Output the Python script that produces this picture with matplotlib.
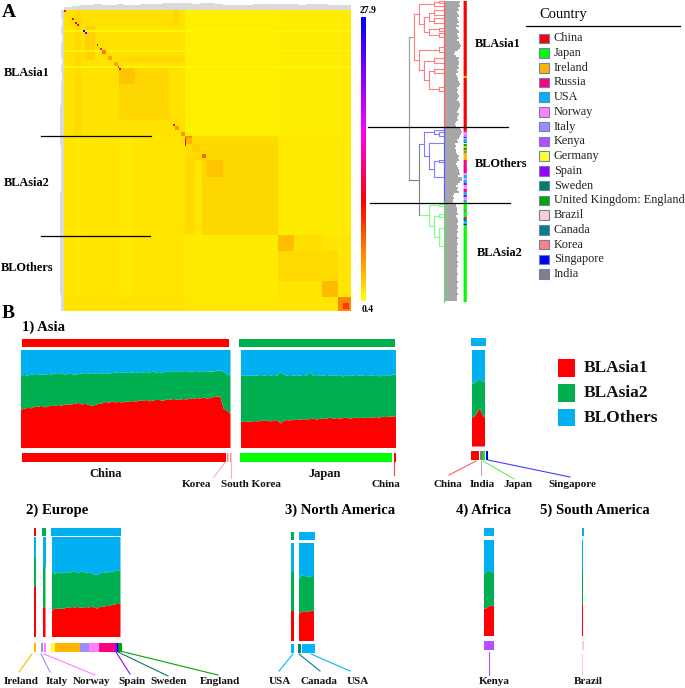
import numpy as np
import matplotlib
matplotlib.use('Agg')
import matplotlib.pyplot as plt
from matplotlib.colors import LinearSegmentedColormap, Normalize

plt.rcParams['font.family'] = ['Liberation Serif', 'DejaVu Serif']

W, H = 685, 688

# ---- panel A data ----
n_samples = 150
heat_base = 1.2
# row0, row1, col0, col1, value
heat_rects = [
    (0, 63, 63, 150, 0.95), (0, 63, 112, 150, 1.05),
    (63, 150, 0, 63, 1.4), (113, 150, 63, 112, 1.25), (63, 112, 112, 150, 1.25),
    (0, 63, 0, 63, 1.5), (0, 63, 6, 9, 1.8), (8, 25, 11, 16, 2.2),
    (63, 150, 6, 9, 1.2), (63, 150, 20, 22, 1.5), (63, 150, 30, 36, 1.25),
    (23, 26, 30, 63, 1.9), (29, 55, 29, 55, 1.95), (29, 37, 29, 37, 2.7),
    (0, 6, 57, 60, 2.0), (6, 8, 55, 60, 1.8),
    (10, 11, 0, 150, 0.8), (20, 21, 0, 150, 0.85), (28, 29, 0, 150, 0.8),
    (63, 112, 63, 112, 1.95), (68, 112, 63, 68, 1.85), (75, 112, 68, 72, 1.45),
    (63, 67, 67, 112, 1.7), (68, 73, 63, 75, 1.65), (75, 83, 75, 83, 2.7),
    (63, 67, 63, 67, 3.2), (67, 71, 67, 71, 2.2), (63, 64, 63, 67, 5.0), (64, 68, 63, 64, 10.0),
    (112, 150, 112, 150, 1.45), (120, 135, 112, 134, 1.85), (112, 120, 120, 135, 1.65),
    (112, 120, 112, 120, 2.9), (120, 135, 134, 143, 1.75), (135, 143, 135, 143, 3.0),
    (143, 150, 143, 150, 5.0), (146, 149, 146, 149, 8.0),
    (143, 150, 0, 63, 1.55), (143, 150, 63, 120, 1.35),
]
heat_diag_blocks = [(20, 22, 5.5), (23, 25, 4.0), (26, 28, 4.0), (58, 60, 4.5), (61, 63, 4.5), (72, 74, 6.5)]
heat_spots = [(0, 12.0), (4, 11.0), (6, 10.0), (7, 11.0), (10, 27.9), (11, 24.0), (17, 11.0),
              (19, 15.0), (28, 17.0), (29, 11.0), (57, 11.0)]

top_dendro = [3, 4, 5, 5, 6, 5, 5, 6, 5, 5, 6, 6, 6, 7, 7, 7, 7, 6, 7, 7, 6, 5, 5, 5, 5, 6, 6, 6, 6, 6, 6, 5, 6, 6, 6, 5, 5, 5]
left_dendro = [3, 2, 3, 2, 3, 3, 2, 3, 2, 3, 3, 3, 4, 4, 4, 4, 4, 3, 3, 3, 3, 3, 3, 4, 4, 4, 4, 4, 4, 4, 4, 4, 4, 4, 4, 4, 3, 3]

# node = (x, child, child), leaf = y
tree_red = (414,
            (419, (434, (439, 1, 2.7), 6),
             (424, (429, (434, 10, 15), (434, 18, 23)), (429, (439, 27.5, 31), (439, 33, 37)))),
            (419, (439, 47, 52), (424, (434, 58, 63), (429, (434, 69, 73), (439, 87, 91)))))
tree_blue = (424, (434, 130, (439, 131.7, 136)), (429, 143, (434, (439, 159.5, 162), 177)))
tree_green = (429, (439, 204, 205.5), (434, (439, 214, 217.3), (439, 227.5, 245.7)))

leaf_red = [16, 15, 16, 14, 15, 13, 14, 15, 13, 14, 15, 13, 15, 12, 14, 15, 13, 14, 15, 13, 15, 16, 17, 16, 14, 11, 10, 12,
            15, 14, 15, 15, 14, 15, 13, 14, 12, 13, 14, 14, 15, 16, 15, 13, 14, 13, 14, 15, 14, 13, 15, 16, 16, 15, 14, 13,
            15, 14, 13, 14, 12, 11, 12]
leaf_blue = [16, 17, 18, 17, 16, 15, 13, 14, 11, 12, 11, 12, 12, 13, 15, 14, 15, 13, 12, 13, 14, 15, 15, 16, 14, 18, 18,
             16, 14, 12, 14, 13, 15, 10, 9, 10, 9]
leaf_green = [9, 12, 12, 13, 13, 13, 14, 12, 13, 14, 14, 13, 14, 14, 13, 14, 13, 13, 14, 13, 13, 14, 13, 13, 13, 14, 13,
              14, 13, 13, 14, 13, 14, 13, 13, 13, 14, 13, 13, 13, 14, 13, 13, 14, 13, 13, 14, 13, 13, 13]

country_names = ['China', 'Japan', 'Ireland', 'Russia', 'USA', 'Norway', 'Italy', 'Kenya', 'Germany', 'Spain',
                 'Sweden', 'United Kingdom: England', 'Brazil', 'Canada', 'Korea', 'Singapore', 'India']
country_colors = ['#ff0000', '#00ff00', '#ffb400', '#ff0080', '#00b4ff', '#ff80ff', '#9b8cff', '#b84dff', '#ffff33',
                  '#9900ff', '#008060', '#00a800', '#ffcccc', '#008080', '#ff8080', '#0000ff', '#808080']
colors = dict(zip(country_names, country_colors))
colors['gap'] = '#ffffff'
colors['England'] = colors['United Kingdom: England']
colors['asia1'] = '#ff0000'
colors['asia2'] = '#00b050'
colors['others'] = '#00b0f0'

tree_strip_names = ['China', 'Ireland', 'China', 'Russia', 'Norway', 'Italy', 'Spain', 'Norway', 'USA', 'Canada',
                    'gap', 'England', 'Ireland', 'England', 'Ireland', 'India', 'Ireland', 'Russia', 'Norway', 'USA',
                    'Norway', 'USA', 'Spain', 'Norway', 'Russia', 'USA', 'Spain', 'Norway', 'USA', 'Japan', 'India',
                    'Japan', 'Russia', 'Sweden', 'USA', 'Singapore', 'Japan']
tree_strip_sizes = [75, 2, 52, 2, 3, 2, 1, 1, 3, 1, 1, 2, 2, 2, 1, 2, 7, 13, 2, 3, 2, 3, 2, 4, 3, 3, 2, 3, 2, 8, 2, 5, 2, 2, 3, 1, 77]

# ---- panel B data: share of BLAsia1 and of BLAsia1 + BLAsia2 per sample ----
china_red = [.39, .40, .41, .405, .42, .42, .43, .415, .425, .43, .43, .44, .43, .445, .44, .445, .45, .46, .445, .45,
             .44, .43, .44, .45, .455, .47, .46, .475, .465, .47, .465, .475, .47, .48, .47, .485, .48, .49, .475, .485,
             .49, .49, .48, .495, .49, .50, .495, .49, .50, .495, .505, .50, .51, .505, .515, .505, .51, .52, .525, .525,
             .40, .38, .35]
china_green = [.74, .745, .74, .75, .745, .745, .75, .745, .755, .75, .76, .765, .76, .75, .76, .755, .745, .755, .76, .765,
               .76, .755, .76, .765, .76, .765, .76, .765, .77, .765, .77, .765, .775, .77, .765, .775, .77, .775, .77, .78,
               .77, .775, .77, .78, .775, .78, .785, .775, .78, .785, .78, .78, .785, .78, .775, .785, .78, .78, .79, .79,
               .78, .75, .74]
japan_red = [.27, .265, .27, .27, .275, .27, .28, .275, .28, .27, .28, .285, .25, .28, .285, .28, .29, .285, .29, .295,
             .29, .295, .30, .29, .30, .295, .30, .31, .30, .305, .30, .305, .31, .30, .305, .31, .305, .31, .305, .31,
             .31, .315, .31, .32, .315, .32, .32, .325]
japan_green = [.74, .735, .74, .735, .74, .74, .745, .74, .745, .74, .745, .74, .775, .745, .74, .745, .74, .735, .74, .745,
               .74, .77, .74, .745, .735, .74, .745, .74, .735, .74, .745, .73, .74, .735, .74, .745, .735, .74, .745, .735,
               .74, .745, .73, .745, .74, .735, .75, .745]
india_red = [.31, .30, .31, .33, .35, .37, .40, .36, .33, .31, .30]
india_green = [.655, .65, .66, .67, .68, .69, .705, .69, .67, .665, .67]
ireland_red = [.497, .497]
ireland_green = [.79, .79]
italy_red = [.30, .295]
italy_green = [.70, .70]
europe_red = [.26, .29, .28, .285, .28, .295, .29, .30, .295, .30, .295, .29, .30, .295, .305, .29, .285, .31, .30, .31,
              .31, .32, .325, .33, .335]
europe_green = [.66, .63, .65, .635, .645, .64, .645, .65, .66, .64, .65, .655, .64, .65, .635, .625, .62, .64, .65, .64,
                .655, .645, .66, .665, .66]
usa_red = [.306, .306]
usa_green = [.70, .70]
na_red = [.28, .29, .30, .295, .30, .305, .30, .305, .31, .31]
na_green = [.63, .66, .67, .66, .665, .655, .66, .65, .66, .67]
kenya_red = [.285, .285, .295, .31, .315, .315, .315]
kenya_green = [.65, .66, .675, .68, .67, .665, .66]
brazil_red = [.333, .333]
brazil_green = [.69, .69]

legend_labels = ['BLAsia1', 'BLAsia2', 'BLOthers']

fig = plt.figure(figsize=(6.85, 6.88), dpi=100)


def px_ax(x0, y0, x1, y1, **kw):
    ax = fig.add_axes([x0 / W, 1 - y1 / H, (x1 - x0) / W, (y1 - y0) / H], **kw)
    ax.axis('off')
    return ax


def structure(box, red, green):
    ax = px_ax(*box)
    red = np.array(red)
    green = np.array(green)
    x = np.arange(len(red))
    ax.stackplot(x, red, green - red, 1 - green, colors=[colors['asia1'], colors['asia2'], colors['others']], lw=0)
    ax.set_xlim(0, len(red) - 1)
    ax.set_ylim(0, 1)


def strip(box, names, sizes):
    ax = px_ax(*box)
    left = 0
    for name, size in zip(names, sizes):
        ax.barh(0, size, left=left, height=1, color=colors[name], lw=0)
        left += size
    ax.set_xlim(0, left)
    ax.set_ylim(-0.5, 0.5)


def draw_tree(ax, node, parent_x, color):
    if not isinstance(node, tuple):
        ax.plot([parent_x, 444], [node, node], color=color, lw=0.8)
        return node
    x = node[0]
    ys = [draw_tree(ax, c, x, color) for c in node[1:]]
    ax.plot([x, x], [min(ys), max(ys)], color=color, lw=0.8)
    y = np.mean(ys)
    ax.plot([parent_x, x], [y, y], color=color, lw=0.8)
    return y


# heatmap
heat = np.full((n_samples, n_samples), heat_base)
for r0, r1, c0, c1, v in heat_rects:
    heat[r0:r1, c0:c1] = v
for start, end, v in heat_diag_blocks:
    heat[start:end, start:end] = v
for i, v in heat_spots:
    heat[i, i] = v

heat_cmap = LinearSegmentedColormap.from_list('heat', [(0, '#ffff00'), (0.35, '#ff0000'), (0.6, '#ff00ff'), (1, '#0000ff')])
heat_norm = Normalize(0.4, 27.9)
ax = px_ax(64, 10, 351, 311)
im = ax.imshow(heat, cmap=heat_cmap, norm=heat_norm, aspect='auto', interpolation='nearest')

ax = px_ax(64, 3, 351, 10)
ax.bar(np.arange(len(top_dendro)), top_dendro, width=1.0, color='#dadada', lw=0)
ax.set_xlim(-0.5, len(top_dendro) - 0.5)
ax.set_ylim(0, 7.5)

ax = px_ax(59, 10, 64, 311)
ax.barh(np.arange(len(left_dendro)), left_dendro, height=1.0, color='#dadada', lw=0)
ax.set_ylim(len(left_dendro) - 0.5, -0.5)
ax.set_xlim(5, 0)

cax = fig.add_axes([361 / W, 1 - 301 / H, 5 / W, 284 / H])
cbar = fig.colorbar(im, cax=cax, ticks=[])
cbar.outline.set_visible(False)

# tree
ax = px_ax(400, 0, 470, 305)
ax.set_xlim(400, 470)
ax.set_ylim(305, 0)
ry = draw_tree(ax, tree_red, 409, '#ff8080')
by = draw_tree(ax, tree_blue, 419, '#8080ff')
gy = draw_tree(ax, tree_green, 419, '#80ff80')
ax.plot([419, 419], [by, gy], color='#808080', lw=0.8)
ax.plot([409, 409], [ry, (by + gy) / 2], color='#a0a0a0', lw=0.9)
ax.plot([409, 419], [(by + gy) / 2, (by + gy) / 2], color='#808080', lw=0.8)

leaves = leaf_red + leaf_blue + leaf_green
leaf_bars = ax.barh(2 + 2 * np.arange(len(leaves)), leaves, left=444, height=1.3, color='#787878', lw=0)
for b in leaf_bars:
    b.set_snap(False)
ax.plot([444, 444], [2, 127], color='#ff6060', lw=0.9)
ax.plot([444, 444], [127, 202], color='#6060ff', lw=0.9)
ax.plot([444, 444], [202, 302], color='#60e060', lw=0.9)

top = 1
for name, size in zip(tree_strip_names, tree_strip_sizes):
    tree_bar = ax.bar(465.2, size, bottom=top, width=3.2, color=colors[name], lw=0)
    tree_bar[0].set_snap(False)
    top += size

# country legend
ax = px_ax(0, 0, W, H)
ax.set_xlim(0, W)
ax.set_ylim(H, 0)
ax.patch.set_alpha(0)
ax.text(539, 14.5, 'Country', fontsize=10.5, ha='left', va='center')
ax.plot([526, 680], [25.5, 25.5], color='k', lw=0.9)
for i, name in enumerate(country_names):
    y = 38.3 + i * 14.73
    ax.bar(543.8, 9.5, bottom=y - 4.75, width=10, color=colors[name], edgecolor='#7080b0', lw=0.8)
    ax.text(554, y, name, fontsize=8.8, ha='left', va='center', color='#222222')

# panel labels and cut lines
ax.text(2, 12.5, 'A', fontsize=14, fontweight='bold', va='center')
ax.text(2, 313.5, 'B', fontsize=14, fontweight='bold', va='center')
ax.plot([41, 151], [136.3, 136.3], color='k', lw=0.9)
ax.plot([41, 150], [235.5, 235.5], color='k', lw=0.9)
ax.plot([368, 508], [127, 127], color='k', lw=0.9)
ax.plot([370, 510], [202.5, 202.5], color='k', lw=0.9)
ax.text(368, 10.5, '27.9', fontsize=7, fontweight='bold', ha='center', va='center')
ax.text(368, 309, '0.4', fontsize=7, fontweight='bold', ha='center', va='center')
for x, y, s in [(4, 73, 'BLAsia1'), (3.5, 183, 'BLAsia2'), (1, 268, 'BLOthers')]:
    ax.text(x, y, s, fontsize=8.8, fontweight='bold', va='center')
for x, y, s in [(474.5, 44, 'BLAsia1'), (475, 164, 'BLOthers'), (477, 253, 'BLAsia2')]:
    ax.text(x, y, s, fontsize=8.8, fontweight='bold', va='center')

# panel B headings
for x, y, s in [(22, 327, '1) Asia'), (26, 510, '2) Europe'), (285, 510, '3) North America'),
                (456, 510, '4) Africa'), (540, 510, '5) South America')]:
    ax.text(x, y, s, fontsize=10.6, fontweight='bold', va='center')

# legend for groups
for i, s in enumerate(legend_labels):
    y = 368 + i * 24.8
    ax.bar(566.7, 17.5, bottom=y - 8.75, width=17.5, color=colors[['asia1', 'asia2', 'others'][i]], lw=0)
    ax.text(584, y, s, fontsize=12.5, fontweight='bold', va='center', color='#111111')

# sample labels
label_list = [(105.5, 474, 'China'), (325, 474, 'Japan'), (197, 484.5, 'Korea'), (251, 484.5, 'South Korea'),
              (386, 484.5, 'China'), (448, 484.5, 'China'), (482, 484.5, 'India'), (518, 484.5, 'Japan'),
              (572, 484.5, 'Singapore'), (21, 681, 'Ireland'), (57, 681, 'Italy'), (92, 681, 'Norway'),
              (132, 681, 'Spain'), (169, 681, 'Sweden'), (220, 681, 'England'), (280, 681, 'USA'),
              (319, 681, 'Canada'), (358, 681, 'USA'), (494, 681.5, 'Kenya'), (588, 681.5, 'Brazil')]
for x, y, s in label_list:
    ax.text(x, y, s, fontsize=8 if s not in ('China', 'Japan') or y > 480 else 9, fontweight='bold',
            ha='center', va='center', color='#111111')

# leader lines
leaders = [((226, 214), (461, 477), '#ffb0b0'), ((231, 231), (462, 478), '#ffb0b0'), ((394.5, 394.5), (462, 475), '#ff4040'),
           ((476, 449), (461, 475), '#ff6060'), ((481, 481), (461, 475), '#b0b0b0'), ((483, 514), (461, 479), '#60f060'),
           ((488, 570), (460, 477), '#4040ff'), ((32, 19), (654, 672), colors['Ireland']), ((41, 50), (654, 672), colors['Italy']),
           ((44, 95), (654, 675), colors['Norway']), ((116, 130), (652, 674), colors['Spain']),
           ((118, 168), (652, 676), colors['Sweden']), ((120, 218), (651, 675), colors['England']),
           ((293, 279), (654, 671), colors['USA']), ((299, 320), (654, 671), colors['Canada']),
           ((311, 350), (654, 671), colors['USA']), ((489.5, 489.5), (652, 675), colors['Kenya']),
           ((582.5, 582.5), (654, 675), colors['Brazil'])]
for xs, ys, c in leaders:
    ax.plot(xs, ys, color=c, lw=0.8)
ax.set_xlim(0, W)
ax.set_ylim(H, 0)

# structure plots
structure((21, 350, 230.5, 448), china_red, china_green)
structure((241, 350, 396, 448), japan_red, japan_green)
structure((472, 350, 485, 446.5), india_red, india_green)
structure((33.7, 537, 35.5, 637), ireland_red, ireland_green)
structure((42.5, 537, 45.5, 637), italy_red, italy_green)
structure((52, 537, 120.5, 637), europe_red, europe_green)
structure((291, 543, 294, 641), usa_red, usa_green)
structure((299, 543, 314, 641), na_red, na_green)
structure((484, 540, 494, 636), kenya_red, kenya_green)
structure((581.7, 540, 583.2, 636), brazil_red, brazil_green)

# group bars above the plots
strip((21.5, 339, 229.5, 347), ['asia1'], [1])
strip((239, 339, 395, 347), ['asia2'], [1])
strip((471.5, 338, 485.5, 346), ['others'], [1])
strip((33.5, 527.5, 35.5, 535.5), ['asia1'], [1])
strip((42, 527.5, 46, 535.5), ['asia2'], [1])
strip((51, 527.5, 121, 535.5), ['others'], [1])
strip((290.5, 531.5, 294, 540), ['asia2'], [1])
strip((298.5, 531.5, 314.5, 540), ['others'], [1])
strip((484, 528, 494.5, 536), ['others'], [1])
strip((581.5, 528, 583.5, 536), ['others'], [1])

# country bars below the plots
strip((21.5, 453, 232, 461.5), ['China', 'gap', 'Korea', 'gap', 'Brazil', 'gap', 'Korea', 'gap', 'Brazil'],
      [204, 1, 1, 0.5, 1, 0.5, 1, 0.5, 1])
strip((240, 453, 396, 461.5), ['Japan', 'gap', 'China'], [152, 2, 2])
strip((471.5, 451, 488, 460), ['China', 'gap', 'India', 'gap', 'Japan', 'gap', 'Singapore'], [7.5, 1, 2.5, 0.5, 1.5, 1, 2])
strip((33.7, 643, 35.5, 652), ['Ireland'], [1])
strip((41, 643, 46, 652), ['Italy', 'gap', 'Norway'], [2.2, 0.6, 2.2])
strip((51, 643, 122, 652), ['Germany', 'Ireland', 'Italy', 'Norway', 'Russia', 'Spain', 'Singapore', 'Sweden', 'England'],
      [3.5, 25.5, 8.5, 10, 16.5, 1.5, 0.7, 1.3, 3])
strip((290.5, 644, 294, 653), ['USA'], [1])
strip((298, 644, 315, 653), ['Canada', 'gap', 'USA'], [2.5, 1, 13.5])
strip((484, 641, 494.5, 649.5), ['Kenya'], [1])
strip((581.7, 641, 583.5, 649.5), ['Brazil'], [1])

fig.savefig('out.png', dpi=100)
